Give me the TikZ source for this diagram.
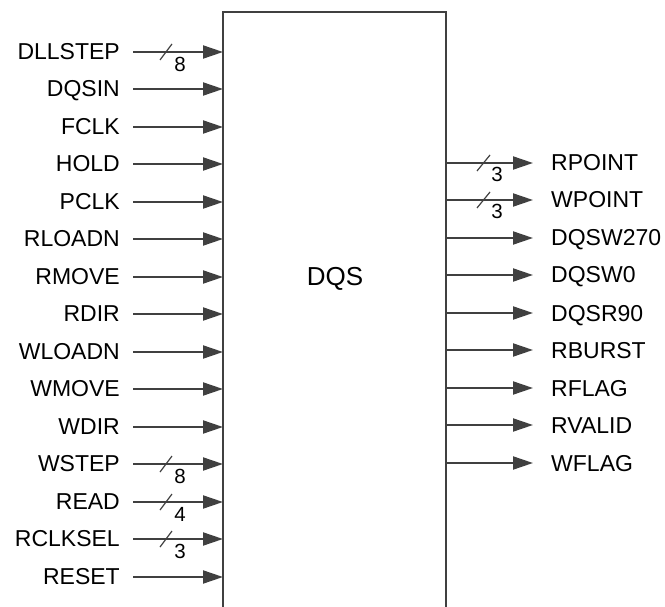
\documentclass[tikz,border=0pt]{standalone}
\usepackage{fontspec}
\setmainfont{Liberation Sans}
\usetikzlibrary{arrows.meta}
\definecolor{linecol}{HTML}{404040}
\begin{document}
\begin{tikzpicture}[x=1pt,y=-1pt,
  wire/.style={draw=linecol, line width=2pt, -{Triangle[length=20pt,width=13pt]}},
  busmark/.style={draw=linecol, line width=1.2pt},
  lbl/.style={font=\fontsize{23}{26}\selectfont, inner sep=0pt},
  num/.style={font=\fontsize{20.5}{23}\selectfont, inner sep=0pt},
  title/.style={font=\fontsize{26}{30}\selectfont, inner sep=0pt},
  boxline/.style={draw=linecol, line width=2pt}]
\useasboundingbox (0,0) rectangle (665,607);
% block
\coordinate (BL) at (223,607);
\coordinate (TL) at (223,12);
\coordinate (TR) at (446,12);
\coordinate (BR) at (446,607);
\draw[boxline] (BL) -- (TL) -- (TR) -- (BR);
\node[title, anchor=base] (dqs) at (335,285.5) {DQS};
% inputs
\foreach \n/\w [count=\i from 0] in {DLLSTEP/8,DQSIN/-,FCLK/-,HOLD/-,PCLK/-,RLOADN/-,RMOVE/-,RDIR/-,WLOADN/-,WMOVE/-,WDIR/-,WSTEP/8,READ/4,RCLKSEL/3,RESET/-}{
  \pgfmathsetmacro\yy{round(51.5+37.5*\i)}
  \node[lbl, anchor=base east] (in\i) at (120,\yy+7.5) {\n};
  \coordinate (ins\i) at (133,\yy);
  \coordinate (ine\i) at (223,\yy);
  \draw[wire] (ins\i) -- (ine\i);
  \if\w-\else
    \coordinate (inb\i a) at (160,\yy+8);
    \coordinate (inb\i b) at (172,\yy-8);
    \draw[busmark] (inb\i a) -- (inb\i b);
    \node[num] (inw\i) at (180,\yy+12.5) {\w};
  \fi
}
% outputs
\foreach \n/\w [count=\i from 3] in {RPOINT/3,WPOINT/3,DQSW270/-,DQSW0/-,DQSR90/-,RBURST/-,RFLAG/-,RVALID/-,WFLAG/-}{
  \pgfmathsetmacro\yy{round(50+37.5*\i)}
  \coordinate (outs\i) at (446,\yy);
  \coordinate (oute\i) at (533,\yy);
  \draw[wire] (outs\i) -- (oute\i);
  \node[lbl, anchor=base west] (out\i) at (551,\yy+8) {\n};
  \if\w-\else
    \coordinate (outb\i a) at (477,\yy+8);
    \coordinate (outb\i b) at (490,\yy-8);
    \draw[busmark] (outb\i a) -- (outb\i b);
    \node[num] (outw\i) at (497,\yy+11.5) {\w};
  \fi
}
\end{tikzpicture}
\end{document}
